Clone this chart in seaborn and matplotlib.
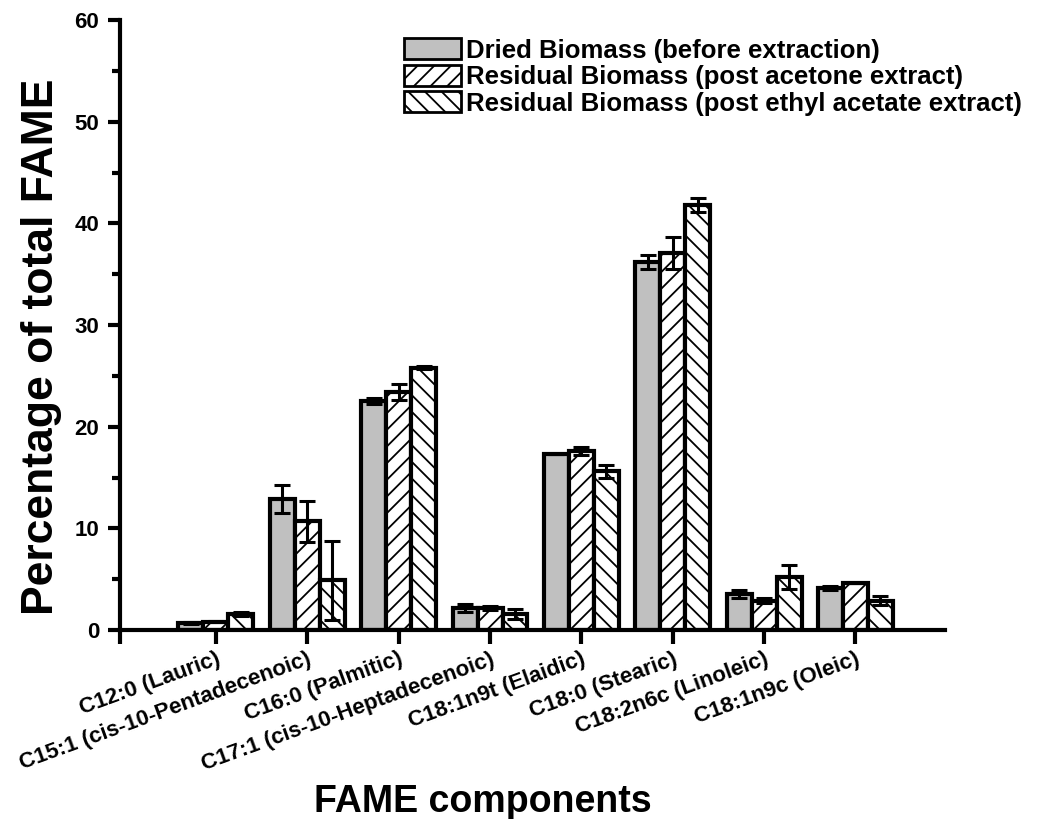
import matplotlib
matplotlib.use('Agg')
import matplotlib.pyplot as plt
from matplotlib.patches import Patch
from matplotlib.ticker import MultipleLocator
import pandas as pd
import seaborn as sns

components = ['C12:0 (Lauric)', 'C15:1 (cis-10-Pentadecenoic)', 'C16:0 (Palmitic)',
              'C17:1 (cis-10-Heptadecenoic)', 'C18:1n9t (Elaidic)', 'C18:0 (Stearic)',
              'C18:2n6c (Linoleic)', 'C18:1n9c (Oleic)']
series = ['Dried Biomass (before extraction)',
          'Residual Biomass (post acetone extract)',
          'Residual Biomass (post ethyl acetate extract)']

dried = [0.7, 12.9, 22.5, 2.2, 17.3, 36.2, 3.5, 4.1]
acetone = [0.8, 10.7, 23.4, 2.2, 17.6, 37.1, 2.9, 4.6]
ethyl = [1.6, 4.9, 25.8, 1.6, 15.6, 41.8, 5.2, 2.9]

dried_err = [0.1, 1.4, 0.3, 0.4, 0.0, 0.7, 0.4, 0.2]
acetone_err = [0.05, 2.0, 0.75, 0.2, 0.4, 1.6, 0.2, 0.0]
ethyl_err = [0.2, 3.9, 0.15, 0.5, 0.6, 0.7, 1.15, 0.45]

values = [dried, acetone, ethyl]
errors = [dried_err, acetone_err, ethyl_err]

rows = []
for s, vals in zip(series, values):
    for c, v in zip(components, vals):
        rows.append({'component': c, 'sample': s, 'pct': v})
df = pd.DataFrame(rows)

sns.set_style('ticks')
plt.rcParams['font.family'] = ['Liberation Sans', 'DejaVu Sans']
for key in ['text.color', 'axes.labelcolor', 'xtick.color', 'ytick.color', 'axes.edgecolor']:
    plt.rcParams[key] = 'black'
plt.rcParams['hatch.linewidth'] = 1.3

fig = plt.figure(figsize=(10.39, 8.19), dpi=100)
ax = fig.add_axes([120 / 1039, 1 - 630 / 819, 825 / 1039, 610 / 819])

fills = ['#c0c0c0', 'white', 'white']
hatches = ['', '//', '\\\\']

sns.barplot(data=df, x='component', y='pct', hue='sample', order=components,
            hue_order=series, palette=fills, errorbar=None, width=0.82,
            edgecolor='black', linewidth=3, ax=ax, legend=False)

for cont, h, err in zip(ax.containers, hatches, errors):
    xs = []
    ys = []
    for bar in cont:
        bar.set_hatch(h)
        xs.append(bar.get_x() + bar.get_width() / 2)
        ys.append(bar.get_height())
    ax.errorbar(xs, ys, yerr=err, fmt='none', ecolor='black', elinewidth=2.2,
                capsize=6, capthick=2.2, zorder=5)

ax.set_ylim(0, 60)
ax.set_xlim(-1.05, 7.98)
ax.yaxis.set_major_locator(MultipleLocator(10))
ax.yaxis.set_minor_locator(MultipleLocator(5))
sns.despine(ax=ax)
for sp in ['left', 'bottom']:
    ax.spines[sp].set_linewidth(3)
ax.tick_params(axis='y', which='major', length=9, width=3, labelsize=16, pad=6)
ax.tick_params(axis='y', which='minor', length=6, width=3)
ax.tick_params(axis='x', which='both', length=10, width=3, labelsize=16)
for lab in ax.get_yticklabels():
    lab.set_fontweight('bold')
ax.set_xticks(range(len(components)))
ax.set_xticks([-1.05], minor=True)
ax.set_xticklabels(components, rotation=20, ha='right', rotation_mode='anchor',
                   fontweight='bold')

ax.set_ylabel('Percentage of total FAME', fontsize=32, fontweight='bold')
ax.yaxis.set_label_coords(-0.07, 0.465)
ax.set_xlabel('FAME components', fontsize=27, fontweight='bold')
ax.xaxis.set_label_coords(0.44, -0.252)

handles = [Patch(facecolor=f, edgecolor='black', hatch=h, linewidth=2)
           for f, h in zip(fills, hatches)]
ax.legend(handles, series, loc='upper right', bbox_to_anchor=(1.115, 1.0),
          frameon=False, prop={'weight': 'bold', 'size': 18.5},
          handlelength=2.2, handleheight=0.9, handletextpad=0.2, labelspacing=0.08,
          borderpad=0.2)

fig.savefig('out.png', dpi=100)
